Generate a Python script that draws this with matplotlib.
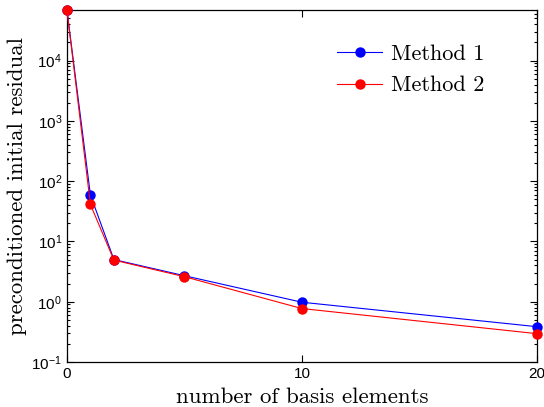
import matplotlib
matplotlib.use("Agg")
import matplotlib.pyplot as plt
from matplotlib.ticker import LogLocator, FixedLocator

plt.rcParams['font.family'] = ['Liberation Sans', 'DejaVu Sans']
plt.rcParams['mathtext.fontset'] = 'custom'
plt.rcParams['mathtext.rm'] = 'Liberation Sans'
plt.rcParams['axes.unicode_minus'] = False

basis = [0, 1, 2, 5, 10, 20]
method1 = [6.9e4, 59.0, 5.0, 2.7, 0.98, 0.385]
method2 = [6.9e4, 41.0, 4.9, 2.6, 0.77, 0.295]
series_names = ["Method 1", "Method 2"]
x_ticks = [0, 10, 20]

fig = plt.figure(figsize=(5.44, 4.07), dpi=100)
ax = fig.add_axes([0.123, 0.1106, 0.864, 0.8648])

ax.plot(basis, method1, color='blue', lw=0.8, marker='o', ms=7.5,
        markeredgewidth=0, label=series_names[0], clip_on=False, zorder=3)
ax.plot(basis, method2, color='red', lw=0.8, marker='o', ms=7.5,
        markeredgewidth=0, label=series_names[1], clip_on=False, zorder=4)

ax.set_yscale('log')
ax.set_xlim(0, 20)
ax.set_ylim(0.1, 6.9e4)
ax.xaxis.set_major_locator(FixedLocator(x_ticks))
ax.yaxis.set_major_locator(LogLocator(base=10, numticks=10))
ax.yaxis.set_minor_locator(LogLocator(base=10, subs=range(2, 10), numticks=20))

ax.tick_params(which='both', direction='in', top=True, right=True,
               labelsize=11, width=0.8)
ax.tick_params(which='major', length=5)
ax.tick_params(which='minor', length=2.5)
for s in ax.spines.values():
    s.set_linewidth(0.9)

ax.set_xlabel("number of basis elements", family='cmr10', fontsize=16.5, labelpad=5)
ax.set_ylabel("preconditioned initial residual", family='cmr10', fontsize=16.5, labelpad=3)

leg = ax.legend(loc='upper right', bbox_to_anchor=(0.93, 0.96), frameon=False,
                prop={'family': 'cmr10', 'size': 16}, handlelength=2.0,
                handletextpad=0.4, labelspacing=0.55)

fig.savefig("out.png", dpi=100)
